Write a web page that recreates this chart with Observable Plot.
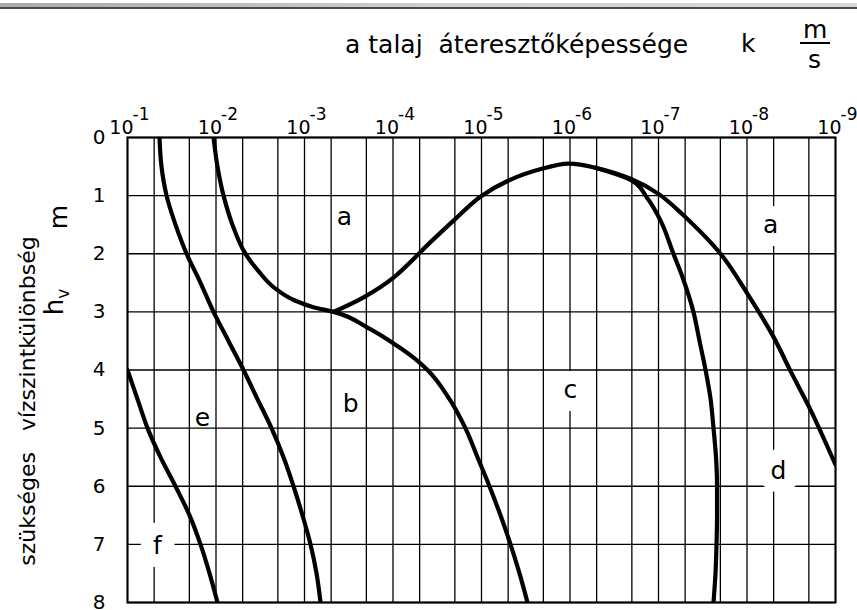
<!DOCTYPE html>
<html>
<head>
<meta charset="utf-8">
<script src="https://cdn.jsdelivr.net/npm/d3@7"></script>
<script src="https://cdn.jsdelivr.net/npm/@observablehq/plot@0.6"></script>
<style>
  html, body { margin: 0; padding: 0; background: white; }
  #wrap { position: relative; width: 857px; height: 610px; overflow: hidden; font-family: "DejaVu Sans", sans-serif; color: black; }
  #wrap svg { position: absolute; left: 0; top: 0; }
  .lbl { position: absolute; font-size: 25px; line-height: 25px; white-space: pre; }
  .rot { transform: translate(-50%, -50%) rotate(-90deg); }
  #bar { position: absolute; left: 0; top: 3px; width: 857px; height: 4px;
         background: linear-gradient(to right, #a9a9a9, #cfcfcf 50%, #d9d9d9); border-bottom: 2px solid #4a4a4a; }
</style>
</head>
<body>
<div id="wrap">
  <div id="chart"></div>
  <div id="bar"></div>
  <div class="lbl" style="left:345px; top:32px;">a talaj  áteresztőképessége</div>
  <div class="lbl" style="left:741px; top:31px;">k</div>
  <div class="lbl" style="left:803px; top:17px;">m</div>
  <div style="position:absolute; left:800px; top:42px; width:30px; height:2px; background:black;"></div>
  <div class="lbl" style="left:808px; top:47px;">s</div>
  <div class="lbl rot" style="left:28px; top:401px; font-size:22px; line-height:22px; word-spacing:14px;">szükséges vízszintkülönbség</div>
  <div class="lbl rot" style="left:55px; top:302px; font-size:26px; line-height:26px;">h<span style="font-size:17px; position:relative; top:6px;">v</span></div>
  <div class="lbl rot" style="left:58px; top:217px;">m</div>
</div>
<script>
// permeability k (m/s) — decade ticks and exponent labels
const decadeTicks = [1e-1, 1e-2, 1e-3, 1e-4, 1e-5, 1e-6, 1e-7, 1e-8, 1e-9];
const exponentLabels = ["-1", "-2", "-3", "-4", "-5", "-6", "-7", "-8", "-9"];
// vertical grid lines (1, 5, 2 per decade)
const kGrid = [1e-1, 5e-2, 2e-2, 1e-2, 5e-3, 2e-3, 1e-3, 5e-4, 2e-4, 1e-4, 5e-5, 2e-5, 1e-5,
               5e-6, 2e-6, 1e-6, 5e-7, 2e-7, 1e-7, 5e-8, 2e-8, 1e-8, 5e-9, 2e-9, 1e-9];
// required head difference h_v (m)
const hTicks = [0, 1, 2, 3, 4, 5, 6, 7, 8];

// curves as [k, h_v]
const curveF = [[0.1, 4], [0.0771, 4.5], [0.0594, 5], [0.0424, 5.5], [0.0287, 6], [0.0199, 6.5],
                [0.01496, 7], [0.01183, 7.5], [0.00962, 8]];
const curveE = [[0.0435, 0], [0.0413, 0.5], [0.0362, 1], [0.0287, 1.5], [0.0215, 2], [0.01496, 2.5],
                [0.01067, 3], [0.00723, 3.5], [0.00489, 4], [0.0034, 4.5], [0.00236, 5], [0.001726, 5.5],
                [0.00133, 6], [0.001054, 6.5], [0.000855, 7], [0.000731, 7.5], [0.000659, 8]];
// from 10^-2 at the top, through the crossing, down to the bottom (boundary a|b, then b|c)
const curveB = [[0.01067, 0], [0.00962, 0.5], [0.00822, 1], [0.00652, 1.5], [0.00465, 2],
                [0.00331, 2.3], [0.00213, 2.6], [0.0013, 2.8], [0.000791, 2.92], [0.00047, 3],
                [1.94e-4, 3.27], [8.67e-5, 3.6], [5.71e-5, 3.8], [4.07e-5, 4], [2.30e-5, 4.5], [1.52e-5, 5],
                [1.11e-5, 5.5], [8.13e-6, 6], [6.10e-6, 6.5], [4.70e-6, 7], [3.72e-6, 7.5], [3.02e-6, 8]];
// arch from the crossing over the peak to the right edge (boundary a)
const curveA = [[4.70e-4, 3], [2.15e-4, 2.75], [9.87e-5, 2.41], [3.77e-5, 1.8], [2.07e-5, 1.43],
                [1.03e-5, 1.02], [4.95e-6, 0.74], [1.99e-6, 0.53], [1.04e-6, 0.45], [5.15e-7, 0.52],
                [2.07e-7, 0.71], [1.0e-7, 0.97], [5.64e-8, 1.29], [1.99e-8, 2.0], [9.87e-9, 2.69],
                [5.02e-9, 3.43], [3.22e-9, 4.02], [1.91e-9, 4.69], [1e-9, 5.63]];
// inner branch (boundary c|d)
const curveC = [[5.15e-7, 0.52], [2.07e-7, 0.73], [1.33e-7, 1.05], [9.48e-8, 1.43], [6.78e-8, 2.0],
                [5.36e-8, 2.4], [4.03e-8, 3.0], [3.44e-8, 3.5], [2.94e-8, 4.0], [2.58e-8, 4.5],
                [2.39e-8, 5.0], [2.24e-8, 5.5], [2.18e-8, 6.0], [2.18e-8, 6.5], [2.21e-8, 7.0],
                [2.27e-8, 7.5], [2.39e-8, 8.0]];

// region letters
const regionLetters = ["a", "a", "b", "c", "d", "e", "f"];
const regionK = [3.53e-4, 5.4e-9, 3.0e-4, 9.9e-7, 4.4e-9, 1.42e-2, 4.58e-2];
const regionH = [1.36, 1.51, 4.58, 4.35, 5.73, 4.82, 7.02];
const regionOnGridLine = [false, true, false, true, true, false, true];

const regions = regionLetters.map((t, i) => ({t, k: regionK[i], h: regionH[i], gap: regionOnGridLine[i]}));
const decades = decadeTicks.map((k, i) => ({k, e: exponentLabels[i]}));

const base = {x: d => d[0], y: d => d[1], stroke: "black", strokeWidth: 4.2, clip: true};

const chart = Plot.plot({
  width: 857,
  height: 610,
  marginLeft: 127,
  marginRight: 22,
  marginTop: 137,
  marginBottom: 8,
  style: {fontFamily: "DejaVu Sans, sans-serif", background: "white", color: "black", overflow: "visible"},
  x: {type: "log", domain: [1e-1, 1e-9], axis: null},
  y: {domain: [0, 8], reverse: true, axis: null},
  marks: [
    Plot.ruleX(kGrid, {stroke: "black", strokeWidth: 1.3}),
    Plot.ruleY(hTicks, {stroke: "black", strokeWidth: 1.3}),
    Plot.frame({stroke: "black", strokeWidth: 2}),
    Plot.text(regions.filter(d => d.gap), {x: "k", y: "h", text: "t", fontSize: 25, fill: "black", stroke: "white", strokeWidth: 26}),
    Plot.text(regions.filter(d => !d.gap), {x: "k", y: "h", text: "t", fontSize: 25, fill: "black"}),
    Plot.line(curveF, {...base, curve: "monotone-y"}),
    Plot.line(curveE, {...base, curve: "monotone-y"}),
    Plot.line(curveB, {...base, curve: "monotone-y"}),
    Plot.line(curveC, {...base, curve: "monotone-y"}),
    Plot.line(curveA, {...base, curve: "catmull-rom"}),
    Plot.axisY({ticks: hTicks, tickSize: 0, tickPadding: 22, fontSize: 20, label: null}),
    Plot.text(decades, {x: "k", frameAnchor: "top", text: () => "10", textAnchor: "end", lineAnchor: "bottom", dx: 6, dy: -4, fontSize: 19}),
    Plot.text(decades, {x: "k", frameAnchor: "top", text: "e", textAnchor: "start", lineAnchor: "bottom", dx: 5, dy: -18, fontSize: 17})
  ]
});
document.getElementById("chart").appendChild(chart);
</script>
</body>
</html>
